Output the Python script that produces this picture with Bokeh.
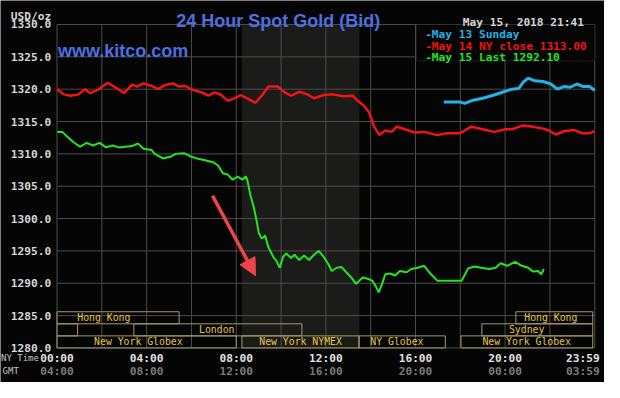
from bokeh.plotting import figure
from bokeh.models import Range1d, Label, BoxAnnotation, Arrow, NormalHead, ColumnDataSource
from bokeh.core.properties import value
from bokeh.embed import file_html
from bokeh.resources import INLINE

MONO = "DejaVu Sans Mono"
SANS = "Liberation Sans"
BG = "#050505"
GRID = "#4c4c4c"
GREEN = "#22e622"
RED = "#f01414"
CYAN = "#22b4e6"
BOXC = "#a39b6c"
GOLD = "#e8c442"
BLUE = "#4d6fe0"
ARROW = "#ee4646"
TICK_FS = "11.2px"

# ---------------- data ----------------
green_hours = [0.01, 0.23, 0.45, 0.74, 1.03, 1.32, 1.61, 1.90, 2.19, 2.48, 2.77, 3.06, 3.35, 3.61,
               3.86, 4.22, 4.36, 4.73, 5.09, 5.30, 5.67, 5.96, 6.25, 6.61, 6.97, 7.19, 7.40, 7.62,
               7.84, 8.06, 8.27, 8.42, 8.49, 8.64, 8.78, 8.93, 9.00, 9.14, 9.29, 9.43, 9.65, 9.80,
               9.94, 10.09, 10.23, 10.45, 10.60, 10.81, 11.03, 11.25, 11.47, 11.68, 11.90, 12.12,
               12.26, 12.48, 12.70, 12.91, 13.13, 13.35, 13.64, 13.86, 14.07, 14.22, 14.36, 14.51,
               14.65, 14.87, 15.09, 15.30, 15.60, 15.81, 16.10, 16.39, 16.61, 16.97, 18.06, 18.35,
               18.64, 18.93, 19.29, 19.58, 19.80, 20.09, 20.45, 20.74, 21.03, 21.25, 21.47, 21.61,
               21.73]
green_price = [1313.4, 1313.4, 1312.7, 1311.8, 1311.1, 1311.7, 1311.3, 1311.7, 1311.0, 1311.3,
               1311.0, 1311.1, 1311.2, 1311.6, 1310.8, 1310.6, 1310.0, 1309.3, 1309.6, 1310.0,
               1310.1, 1309.6, 1309.3, 1309.0, 1308.7, 1308.2, 1307.0, 1306.8, 1306.0, 1306.5,
               1306.0, 1306.5, 1306.0, 1303.5, 1301.8, 1299.3, 1297.8, 1296.9, 1297.4, 1295.6,
               1294.1, 1293.4, 1292.4, 1294.1, 1294.6, 1293.9, 1294.4, 1293.6, 1294.3, 1293.6,
               1294.4, 1295.0, 1294.1, 1292.9, 1291.9, 1292.4, 1292.5, 1291.7, 1290.9, 1289.9,
               1290.9, 1290.7, 1290.4, 1289.6, 1288.6, 1289.9, 1291.4, 1291.5, 1291.2, 1291.9,
               1291.7, 1292.2, 1292.4, 1292.7, 1291.7, 1290.4, 1290.4, 1292.3, 1292.6, 1292.4,
               1292.2, 1292.4, 1293.1, 1292.7, 1293.3, 1292.7, 1292.4, 1291.8, 1291.9, 1291.4,
               1292.2]

red_hours = [0.01, 0.30, 0.60, 0.96, 1.25, 1.47, 1.83, 2.26, 2.55, 2.99, 3.35, 3.57, 3.86, 4.22,
             4.51, 4.80, 5.16, 5.45, 5.74, 6.03, 6.47, 6.75, 7.04, 7.33, 7.62, 7.99, 8.20, 8.42,
             8.86, 9.14, 9.43, 9.87, 10.16, 10.45, 10.81, 11.17, 11.47, 11.90, 12.33, 12.77,
             13.20, 13.42, 13.71, 13.93, 14.14, 14.39, 14.65, 14.94, 15.16, 15.52, 15.96, 16.39,
             16.97, 17.40, 17.99, 18.49, 19.00, 19.51, 20.01, 20.30, 20.81, 21.25, 21.68, 21.90,
             22.26, 22.62, 23.06, 23.42, 23.78, 23.98]
red_price = [1320.0, 1319.2, 1319.0, 1319.2, 1320.0, 1319.4, 1319.9, 1321.0, 1320.4, 1319.4,
             1320.7, 1320.4, 1320.9, 1320.5, 1320.0, 1320.6, 1320.9, 1320.4, 1320.5, 1319.9,
             1319.5, 1319.0, 1319.5, 1319.1, 1318.2, 1318.7, 1319.1, 1318.7, 1317.9, 1319.0,
             1320.4, 1320.4, 1319.5, 1319.0, 1319.6, 1319.2, 1318.6, 1319.1, 1319.2, 1318.9,
             1319.0, 1318.2, 1317.4, 1316.4, 1314.3, 1312.9, 1313.6, 1313.4, 1314.2, 1313.8,
             1313.3, 1313.4, 1312.9, 1313.2, 1313.2, 1314.2, 1313.8, 1313.4, 1313.8, 1313.8,
             1314.4, 1314.2, 1313.9, 1313.7, 1313.0, 1313.5, 1313.7, 1313.2, 1313.2, 1313.5]

cyan_hours = [17.26, 17.99, 18.20, 18.57, 19.00, 19.51, 19.94, 20.30, 20.60, 20.81, 21.03, 21.32,
              21.68, 22.04, 22.33, 22.62, 22.91, 23.20, 23.49, 23.78, 24.00]
cyan_price = [1318.0, 1318.0, 1317.8, 1318.3, 1318.6, 1319.1, 1319.6, 1320.0, 1320.1, 1321.1,
              1321.7, 1321.3, 1321.2, 1320.8, 1320.0, 1320.4, 1320.3, 1320.8, 1320.4, 1320.4,
              1319.8]

legend_labels = ["May 13 Sunday", "May 14 NY close 1313.00", "May 15 Last 1292.10"]
legend_colors = [CYAN, RED, GREEN]

price_ticks = [1280, 1285, 1290, 1295, 1300, 1305, 1310, 1315, 1320, 1325, 1330]
price_tick_labels = ["1280.0", "1285.0", "1290.0", "1295.0", "1300.0", "1305.0", "1310.0",
                     "1315.0", "1320.0", "1325.0", "1330.0"]
grid_hours = [0, 2, 4, 6, 8, 10, 12, 14, 16, 18, 20, 22, 24]
ny_ticks = [0, 4, 8, 12, 16, 20]
ny_labels = ["00:00", "04:00", "08:00", "12:00", "16:00", "20:00"]
gmt_labels = ["04:00", "08:00", "12:00", "16:00", "20:00", "00:00"]
ny_last, gmt_last = "23:59", "03:59"

session_names = ["Hong Kong", "Hong Kong", "", "Sydney", "London",
                 "New York Globex", "New York NYMEX", "NY Globex", "New York Globex"]
session_start = [0.0, 20.48, 0.0, 18.96, 3.43, 0.0, 8.25, 13.48, 18.03]
session_end = [5.45, 23.91, 0.92, 23.91, 10.93, 8.0, 13.48, 17.33, 23.91]
session_row = [2, 2, 1, 1, 1, 0, 0, 0, 0]
session_label_x = [2.09, 22.04, 0.46, 20.96, 7.13, 3.63, 10.87, 15.17, 20.96]

nymex_open, nymex_close = 8.25, 13.5

# ---------------- layout constants ----------------
ROW_H = 1.865          # height of one session row, in price units
Y_LO, Y_HI = price_ticks[0], price_ticks[-1]
X_LO, X_HI = grid_hours[0], grid_hours[-1]
NY_ROW_Y = 1278.37     # rows for the time labels under the chart
GMT_ROW_Y = 1276.39

p = figure(width=604, height=382, x_range=Range1d(-2.5217, 24.435),
           y_range=Range1d(1274.659, 1333.709),
           output_backend="svg", toolbar_location=None,
           x_axis_location=None, y_axis_location=None,
           min_border_left=0, min_border_right=0, min_border_top=0, min_border_bottom=0,
           background_fill_color=BG, border_fill_color=BG, outline_line_color=None)
p.xgrid.visible = False
p.ygrid.visible = False

# shaded NYMEX session
p.add_layout(BoxAnnotation(left=nymex_open, right=nymex_close, top=Y_HI, bottom=Y_LO,
                           fill_color="#1b1b1a", fill_alpha=1, line_color=None, level="image"))

# grid
p.segment(x0=grid_hours, y0=[Y_LO] * len(grid_hours), x1=grid_hours, y1=[Y_HI] * len(grid_hours),
          line_color=GRID, line_width=1)
p.segment(x0=[X_LO] * len(price_ticks), y0=price_ticks, x1=[X_HI] * len(price_ticks),
          y1=price_ticks, line_color=GRID, line_width=1)

# y tick labels
p.text(x=[X_LO] * len(price_ticks), y=price_ticks, text=price_tick_labels, x_offset=-5.8,
       text_font=value(MONO), text_font_style="bold", text_font_size=TICK_FS,
       text_color="#d6d6d6", text_align="right", text_baseline="middle")
p.text(x=[X_LO], y=[1331.26], text=["USD/oz"], x_offset=-5.8,
       text_font=value(MONO), text_font_style="bold", text_font_size=TICK_FS,
       text_color="#d6d6d6", text_align="right", text_baseline="alphabetic")

# x tick labels (NY time and GMT)
p.text(x=ny_ticks, y=[NY_ROW_Y] * len(ny_ticks), text=ny_labels,
       text_font=value(MONO), text_font_style="bold", text_font_size=TICK_FS,
       text_color="#e2e2e2", text_align="center", text_baseline="middle")
p.text(x=ny_ticks, y=[GMT_ROW_Y] * len(ny_ticks), text=gmt_labels,
       text_font=value(MONO), text_font_style="bold", text_font_size=TICK_FS,
       text_color="#7a7a7a", text_align="center", text_baseline="middle")
p.text(x=[X_HI, X_HI], y=[NY_ROW_Y, GMT_ROW_Y], text=[ny_last, gmt_last], x_offset=5,
       text_font=value(MONO), text_font_style="bold", text_font_size=TICK_FS,
       text_color=["#e2e2e2", "#7a7a7a"], text_align="right", text_baseline="middle")
p.text(x=[-2.5, -2.43], y=[NY_ROW_Y, GMT_ROW_Y], text=["NY Time", "GMT"],
       text_font=value(MONO), text_font_size="9px",
       text_color="#c4c4c4", text_align="left", text_baseline="middle")

# sessions
sess = ColumnDataSource(dict(
    left=session_start, right=session_end,
    bottom=[Y_LO + r * ROW_H for r in session_row],
    top=[Y_LO + (r + 1) * ROW_H for r in session_row],
    mid=[Y_LO + (r + 0.5) * ROW_H for r in session_row],
    lx=session_label_x, name=session_names))
p.quad(left="left", right="right", bottom="bottom", top="top", source=sess,
       fill_alpha=0, line_color=BOXC, line_width=1)
p.text(x="lx", y="mid", text="name", source=sess,
       text_font=value(MONO), text_font_size="9.8px", text_color=GOLD,
       text_align="center", text_baseline="middle")

# series
p.line(red_hours, red_price, line_color=RED, line_width=2.5)
p.line(cyan_hours, cyan_price, line_color=CYAN, line_width=3)
p.line(green_hours, green_price, line_color=GREEN, line_width=2)

# arrow
p.add_layout(Arrow(end=NormalHead(size=17, fill_color=ARROW, line_color=ARROW),
                   x_start=6.94, y_start=1303.55, x_end=8.86, y_end=1291.17,
                   line_color=ARROW, line_width=3.5))

# legend box
p.add_layout(BoxAnnotation(left=16.04, right=X_HI, top=Y_HI, bottom=1324.36,
                           fill_color=BG, fill_alpha=1, line_color=GRID, line_width=1))
for i, (lbl, col) in enumerate(zip(legend_labels, legend_colors)):
    p.add_layout(Label(x=16.43, y=1328.44 - i * 1.78, text="-" + lbl, text_color=col,
                       text_font=MONO, text_font_style="bold", text_font_size=TICK_FS,
                       text_baseline="alphabetic", text_align="left"))

# texts
p.add_layout(Label(x=9.87, y=1330.49, text="24 Hour Spot Gold (Bid)", text_color=BLUE,
                   text_font=SANS, text_font_style="bold", text_font_size="18px",
                   text_align="center", text_baseline="alphabetic"))
p.add_layout(Label(x=0.04, y=1325.85, text="www.kitco.com", text_color=BLUE,
                   text_font=SANS, text_font_style="bold", text_font_size="18px",
                   text_align="left", text_baseline="alphabetic"))
p.add_layout(Label(x=23.52, y=1330.34, text="May 15, 2018 21:41", text_color="#d4d4d4",
                   text_font=MONO, text_font_style="bold", text_font_size=TICK_FS,
                   text_align="right", text_baseline="alphabetic"))

open("out.html", "w").write(file_html(p, INLINE))
